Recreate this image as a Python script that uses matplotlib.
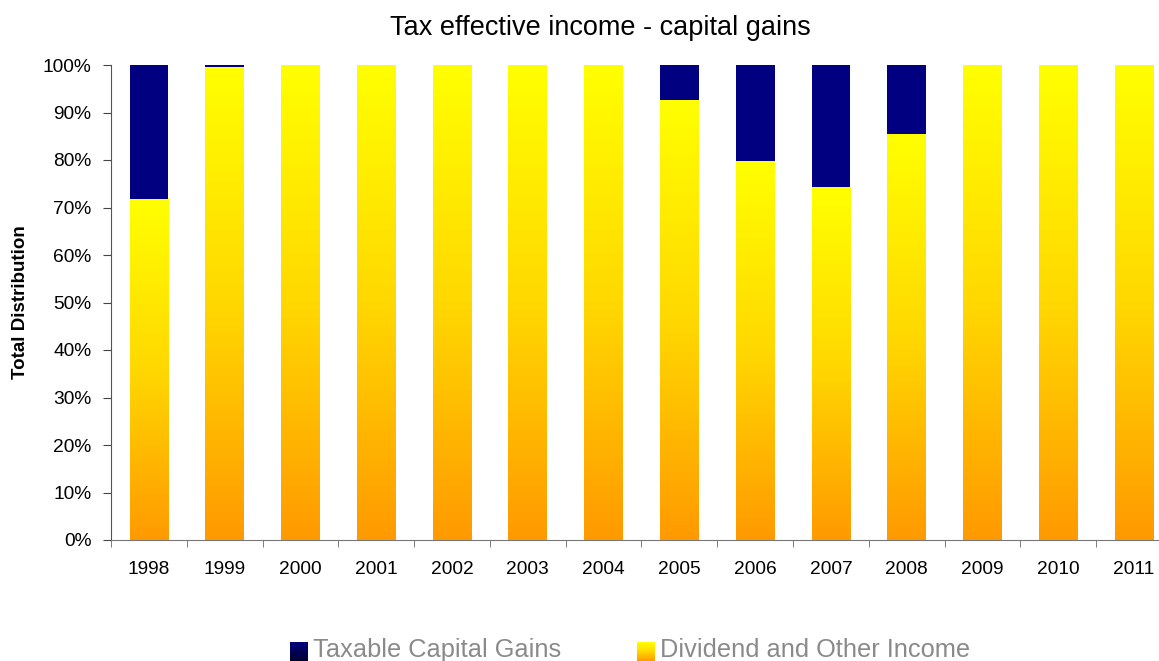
import numpy as np
import matplotlib
matplotlib.use("Agg")
import matplotlib.pyplot as plt
from matplotlib.colors import LinearSegmentedColormap

plt.rcParams['font.family'] = ['Liberation Sans', 'DejaVu Sans']

# datos (porcentaje del total)
years = ['1998', '1999', '2000', '2001', '2002', '2003', '2004',
         '2005', '2006', '2007', '2008', '2009', '2010', '2011']
dividend = [71.8, 99.6, 100, 100, 100, 100, 100, 92.6, 79.8, 74.3, 85.5, 100, 100, 100]
capital_gains = [100 - d for d in dividend]

# degradado amarillo -> naranja
grad = LinearSegmentedColormap.from_list('yo', ['#FF9A00', '#FFD800', '#FFFF00'])
navy_grad = LinearSegmentedColormap.from_list('nv', ['#000030', '#000080'])

fig = plt.figure(figsize=(11.59, 6.61), dpi=100)
ax = fig.add_axes([111 / 1159, 121 / 661, (1172 - 111) / 1159, 475 / 661])

x = np.arange(len(years))
bars_div = ax.bar(x, dividend, width=0.51, color='none', zorder=2)
bars_cap = ax.bar(x, capital_gains, bottom=dividend, width=0.51, color='#000080', zorder=2)

# rellenar cada barra amarilla con su propio degradado
g = np.linspace(0, 1, 256).reshape(-1, 1)
for r in bars_div:
    x0, y0 = r.get_x(), r.get_y()
    ax.imshow(g, cmap=grad, origin='lower', aspect='auto', interpolation='bicubic',
              extent=[x0, x0 + r.get_width(), y0, y0 + r.get_height()], zorder=1)

ax.set_xlim(-0.5, len(years) - 0.5)
ax.set_ylim(0, 100)
ax.set_xticks(x)
ax.set_xticklabels(years, fontsize=13.8)
ax.set_xticks(np.arange(-0.5, len(years), 1), minor=True)
ax.tick_params(axis='x', which='major', length=0, pad=15)
ax.tick_params(axis='x', which='minor', length=5, direction='out', color='#666666')
ax.set_yticks(np.arange(0, 101, 10))
ax.set_yticklabels([f'{v}%' for v in range(0, 101, 10)], fontsize=13.8)
ax.tick_params(axis='y', length=6, direction='out', color='#444444', pad=8)
for s in ['top', 'right']:
    ax.spines[s].set_visible(False)
ax.spines['left'].set_color('#555555')
ax.spines['bottom'].set_color('#777777')
ax.set_ylabel('Total Distribution', fontsize=13.5, fontweight='bold', labelpad=10)

fig.text(600 / 1159, 1 - 28 / 661, 'Tax effective income - capital gains',
         ha='center', va='center', fontsize=19.5)

# leyenda manual con muestras en degradado
legend_items = [('Taxable Capital Gains', navy_grad, 290), ('Dividend and Other Income', grad, 637)]
for label, cm, px in legend_items:
    lax = fig.add_axes([px / 1159, 0, 18 / 1159, 19 / 661])
    lax.imshow(g, cmap=cm, origin='lower', aspect='auto')
    lax.axis('off')
    fig.text((px + 23) / 1159, 11 / 661, label, ha='left', va='center',
             fontsize=18.3, color='#8a8a8a')

fig.savefig('out.png', dpi=100)
